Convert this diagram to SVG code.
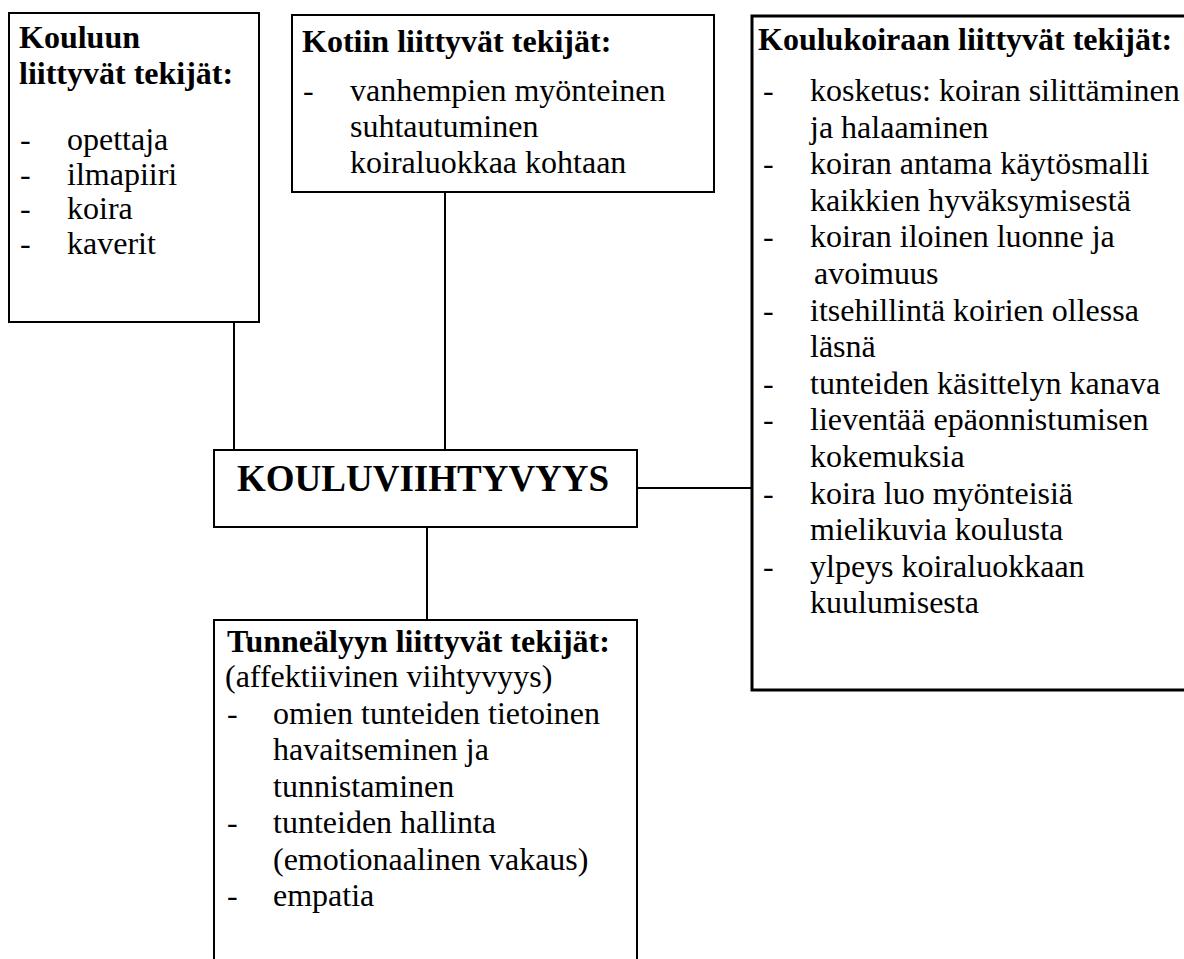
<svg xmlns="http://www.w3.org/2000/svg" width="1184" height="959" viewBox="0 0 1184 959">
<style>
.box{fill:#fff;stroke:#000;stroke-width:2}
.t{font-family:"Liberation Serif","Times New Roman",Times,"Nimbus Roman","DejaVu Serif",serif;font-size:32px;font-weight:normal;fill:#000}
.b{font-weight:bold}
.c{stroke:#000;stroke-width:2;fill:none}
</style>
<rect width="1184" height="959" fill="#fff"/>
<g id="connectors">
<line class="c" x1="234" y1="318" x2="234" y2="453"/>
<line class="c" x1="445" y1="192" x2="445" y2="454"/>
<line class="c" x1="637" y1="488" x2="752" y2="488"/>
<line class="c" x1="427" y1="527" x2="427" y2="620"/>
</g>
<g id="node-koulu">
<rect class="box" x="9" y="13" width="250" height="309"/>
<text class="t b" x="19" y="48">Kouluun</text>
<text class="t b" x="19" y="84">liittyvät tekijät:</text>
<text class="t" x="20" y="150">-</text><text class="t" x="67" y="150">opettaja</text>
<text class="t" x="20" y="185">-</text><text class="t" x="67" y="185">ilmapiiri</text>
<text class="t" x="20" y="219">-</text><text class="t" x="67" y="219">koira</text>
<text class="t" x="20" y="254">-</text><text class="t" x="67" y="254">kaverit</text>
</g>
<g id="node-koti">
<rect class="box" x="292" y="15" width="422" height="177"/>
<text class="t b" x="302" y="52">Kotiin liittyvät tekijät:</text>
<text class="t" x="303" y="101">-</text><text class="t" x="350" y="101">vanhempien myönteinen</text>
<text class="t" x="350" y="137">suhtautuminen</text>
<text class="t" x="350" y="173">koiraluokkaa kohtaan</text>
</g>
<g id="node-koulukoira">
<rect class="box" x="752" y="16" width="440" height="674" style="stroke-width:3"/>
<text class="t b" x="758" y="50">Koulukoiraan liittyvät tekijät:</text>
<text class="t" x="763" y="101">-</text><text class="t" x="810" y="101">kosketus: koiran silittäminen</text>
<text class="t" x="810" y="137.6">ja halaaminen</text>
<text class="t" x="763" y="174.2">-</text><text class="t" x="810" y="174.2">koiran antama käytösmalli</text>
<text class="t" x="810" y="210.8">kaikkien hyväksymisestä</text>
<text class="t" x="763" y="247.4">-</text><text class="t" x="810" y="247.4">koiran iloinen luonne ja</text>
<text class="t" x="814" y="284">avoimuus</text>
<text class="t" x="763" y="320.6">-</text><text class="t" x="810" y="320.6">itsehillintä koirien ollessa</text>
<text class="t" x="810" y="357.2">läsnä</text>
<text class="t" x="763" y="393.8">-</text><text class="t" x="810" y="393.8">tunteiden käsittelyn kanava</text>
<text class="t" x="763" y="430.4">-</text><text class="t" x="810" y="430.4">lieventää epäonnistumisen</text>
<text class="t" x="810" y="467">kokemuksia</text>
<text class="t" x="763" y="503.6">-</text><text class="t" x="810" y="503.6">koira luo myönteisiä</text>
<text class="t" x="810" y="540.2">mielikuvia koulusta</text>
<text class="t" x="763" y="576.8">-</text><text class="t" x="810" y="576.8">ylpeys koiraluokkaan</text>
<text class="t" x="810" y="613.4">kuulumisesta</text>
</g>
<g id="node-kouluviihtyvyys">
<rect class="box" x="214" y="450" width="423" height="77"/>
<text class="t b" x="237" y="491" style="font-size:37px">KOULUVIIHTYVYYS</text>
</g>
<g id="node-tunneaely">
<rect class="box" x="214" y="620" width="423" height="350"/>
<text class="t b" x="227" y="652">Tunneälyyn liittyvät tekijät:</text>
<text class="t" x="225" y="687">(affektiivinen viihtyvyys)</text>
<text class="t" x="227" y="724">-</text><text class="t" x="273" y="724">omien tunteiden tietoinen</text>
<text class="t" x="273" y="760">havaitseminen ja</text>
<text class="t" x="273" y="797">tunnistaminen</text>
<text class="t" x="227" y="833">-</text><text class="t" x="273" y="833">tunteiden hallinta</text>
<text class="t" x="273" y="870">(emotionaalinen vakaus)</text>
<text class="t" x="227" y="906">-</text><text class="t" x="273" y="906">empatia</text>
</g>
</svg>
